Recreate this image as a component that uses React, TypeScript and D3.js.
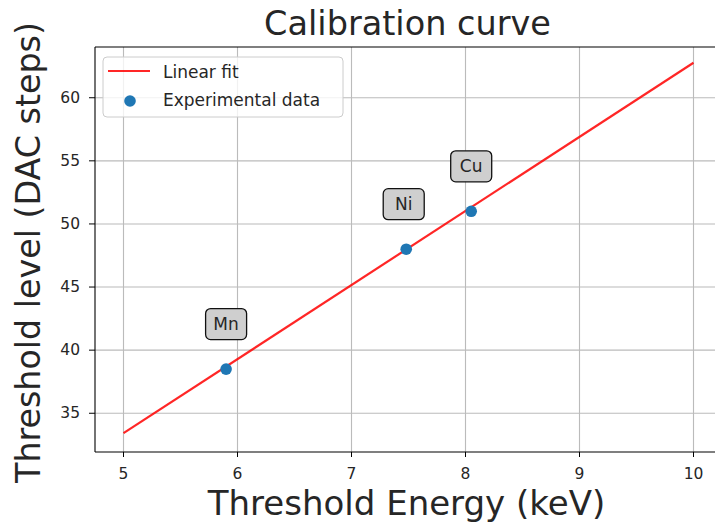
import React from "react";
import * as d3 from "d3";

// Calibration points: K-alpha line energies and the measured threshold levels
const elements = ["Mn", "Ni", "Cu"];
const energies = [5.9, 7.48, 8.05];
const levels = [38.5, 48, 51];

// Linear fit coefficients (level = slope * energy + intercept)
const fitSlope = 5.87;
const fitIntercept = 4.07;
const fitRange = [5, 10];

const xTicks = [5, 6, 7, 8, 9, 10];
const yTicks = [35, 40, 45, 50, 55, 60];

const W = 715;
const H = 527;
const margin = { left: 95, right: 722, top: 47, bottom: 452 };
const FONT = "DejaVu Sans, sans-serif";
const TEXT = "#262626";

export default function App() {
  const x = d3.scaleLinear().domain([4.75, 10.25]).range([margin.left, margin.right]);
  const y = d3.scaleLinear().domain([31.93, 64.02]).range([margin.bottom, margin.top]);

  const fitData = fitRange.map((e) => [e, fitSlope * e + fitIntercept] as [number, number]);
  const line = d3
    .line<[number, number]>()
    .x((d) => x(d[0]))
    .y((d) => y(d[1]));

  const plotW = margin.right - margin.left;
  const plotH = margin.bottom - margin.top;
  const cx = (margin.left + margin.right) / 2;
  const cy = (margin.top + margin.bottom) / 2;

  return (
    <svg
      width={W}
      height={H}
      style={{ position: "absolute", left: 0, top: 0, background: "#fff" }}
      fontFamily={FONT}
    >
      <defs>
        <clipPath id="plot-clip">
          <rect x={margin.left} y={margin.top} width={plotW} height={plotH} />
        </clipPath>
      </defs>
      <rect x={0} y={0} width={W} height={H} fill="#fff" />

      {/* grid */}
      <g stroke="#b0b0b0" strokeWidth={1.1} opacity={0.85}>
        {xTicks.map((t) => (
          <line key={"gx" + t} x1={x(t)} x2={x(t)} y1={margin.top} y2={margin.bottom} />
        ))}
        {yTicks.map((t) => (
          <line key={"gy" + t} x1={margin.left} x2={margin.right} y1={y(t)} y2={y(t)} />
        ))}
      </g>

      {/* fit line */}
      <path
        d={line(fitData) || ""}
        stroke="#ff0000"
        strokeWidth={2.2}
        strokeOpacity={0.85}
        fill="none"
        clipPath="url(#plot-clip)"
      />

      {/* experimental points */}
      {energies.map((e, i) => (
        <circle key={"p" + i} cx={x(e)} cy={y(levels[i])} r={5.8} fill="#1f77b4" />
      ))}

      {/* element annotations */}
      {energies.map((e, i) => {
        const bx = x(e) - (i === 1 ? 2.5 : 0);
        const by = y(levels[i]) - 45;
        const bw = elements[i].length === 2 ? 41 : 36;
        return (
          <g key={"a" + i}>
            <rect
              x={bx - bw / 2}
              y={by - 15.5}
              width={bw}
              height={31}
              rx={5}
              ry={5}
              fill="#cfcfcf"
              stroke="#111"
              strokeWidth={1.3}
            />
            <text
              x={bx}
              y={by}
              textAnchor="middle"
              dominantBaseline="central"
              fontSize={17}
              fill={TEXT}
            >
              {elements[i]}
            </text>
          </g>
        );
      })}

      {/* spines */}
      <g stroke="#000" strokeWidth={1.1} fill="none">
        <line x1={margin.left} x2={margin.left} y1={margin.top} y2={margin.bottom} />
        <line x1={margin.left} x2={margin.right} y1={margin.bottom} y2={margin.bottom} />
        <line x1={margin.left} x2={margin.right} y1={margin.top} y2={margin.top} />
        <line x1={margin.right} x2={margin.right} y1={margin.top} y2={margin.bottom} />
      </g>

      {/* x ticks */}
      {xTicks.map((t) => (
        <g key={"xt" + t}>
          <line x1={x(t)} x2={x(t)} y1={margin.bottom} y2={margin.bottom + 5} stroke="#000" strokeWidth={1} />
          <text x={x(t)} y={margin.bottom + 27} textAnchor="middle" fontSize={15.5} fill={TEXT}>
            {t}
          </text>
        </g>
      ))}

      {/* y ticks */}
      {yTicks.map((t) => (
        <g key={"yt" + t}>
          <line x1={margin.left - 6} x2={margin.left} y1={y(t)} y2={y(t)} stroke="#000" strokeWidth={1} />
          <text
            x={margin.left - 15}
            y={y(t)}
            textAnchor="end"
            dominantBaseline="central"
            fontSize={15.5}
            fill={TEXT}
          >
            {t}
          </text>
        </g>
      ))}

      {/* legend */}
      <g>
        <rect
          x={103}
          y={57}
          width={240}
          height={60}
          rx={4}
          fill="#fff"
          fillOpacity={0.8}
          stroke="#cccccc"
          strokeWidth={1}
        />
        <line x1={108} x2={150} y1={71} y2={71} stroke="#ff0000" strokeOpacity={0.85} strokeWidth={2.2} />
        <text x={163} y={77.5} fontSize={17} fill={TEXT}>
          Linear fit
        </text>
        <circle cx={130} cy={101} r={5.8} fill="#1f77b4" />
        <text x={163} y={106} fontSize={17} fill={TEXT}>
          Experimental data
        </text>
      </g>

      {/* titles */}
      <text x={cx - 1} y={35} textAnchor="middle" fontSize={33.5} fill={TEXT}>
        Calibration curve
      </text>
      <text x={cx - 2} y={515} textAnchor="middle" fontSize={34} fill={TEXT}>
        Threshold Energy (keV)
      </text>
      <text
        transform={`translate(40, ${cy + 3}) rotate(-90)`}
        textAnchor="middle"
        fontSize={33.3}
        fill={TEXT}
      >
        Threshold level (DAC steps)
      </text>
    </svg>
  );
}
